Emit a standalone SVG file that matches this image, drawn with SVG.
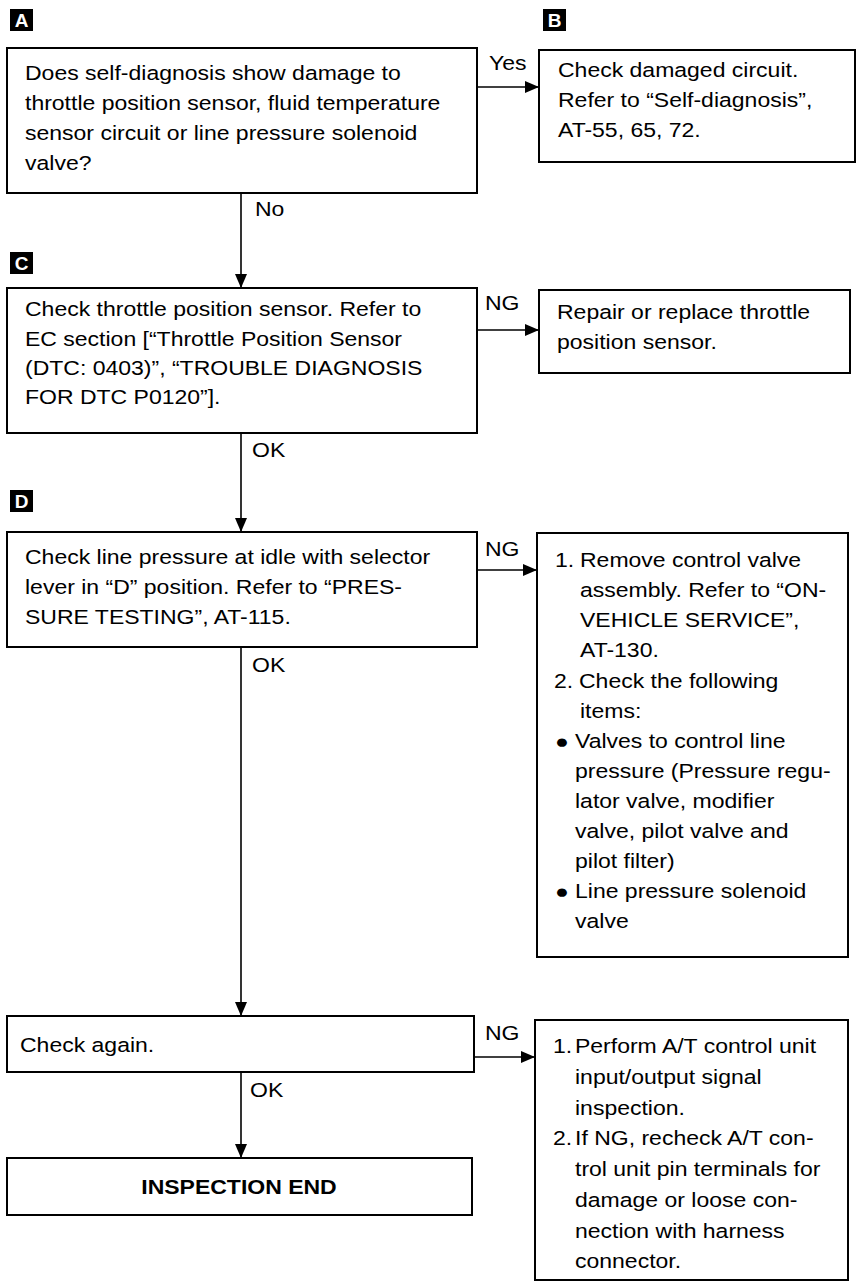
<svg xmlns="http://www.w3.org/2000/svg" width="859" height="1283" viewBox="0 0 859 1283">
<style>
.t{font-family:"Liberation Sans",Arial,Helvetica,sans-serif;font-size:19.5px;fill:#000}
.b{font-weight:bold}
.box{fill:#fff;stroke:#000;stroke-width:2}
.badge{fill:#000}
.bl{font-family:"Liberation Sans",Arial,sans-serif;font-size:19px;font-weight:bold;fill:#fff;text-anchor:middle}
.c{fill:none;stroke:#000;stroke-width:1.6}
</style>
<defs>
<marker id="ah" markerUnits="userSpaceOnUse" markerWidth="14" markerHeight="12" refX="14" refY="6" orient="auto">
<path d="M0,0 L14,6 L0,12 z" fill="#000"/>
</marker>
</defs>
<rect width="859" height="1283" fill="#fff"/>

<g id="badges">
<rect class="badge" x="10" y="9" width="23" height="22"/><text class="bl" x="21.5" y="27">A</text>
<rect class="badge" x="543" y="9" width="23" height="22"/><text class="bl" x="554.5" y="27">B</text>
<rect class="badge" x="10" y="252" width="23" height="22"/><text class="bl" x="21.5" y="270">C</text>
<rect class="badge" x="10" y="490" width="23" height="22"/><text class="bl" x="21.5" y="508">D</text>
</g>

<g id="connectors">
<line class="c" x1="477" y1="87" x2="539" y2="87" marker-end="url(#ah)"/>
<line class="c" x1="241" y1="193" x2="241" y2="288" marker-end="url(#ah)"/>
<line class="c" x1="477" y1="330" x2="539" y2="330" marker-end="url(#ah)"/>
<line class="c" x1="241" y1="433" x2="241" y2="532" marker-end="url(#ah)"/>
<line class="c" x1="477" y1="570" x2="537" y2="570" marker-end="url(#ah)"/>
<line class="c" x1="241" y1="647" x2="241" y2="1016" marker-end="url(#ah)"/>
<line class="c" x1="474" y1="1057" x2="535" y2="1057" marker-end="url(#ah)"/>
<line class="c" x1="241" y1="1072" x2="241" y2="1158" marker-end="url(#ah)"/>
<text class="t" transform="translate(489 70) scale(1.18 1)">Yes</text>
<text class="t" transform="translate(255 216) scale(1.18 1)">No</text>
<text class="t" transform="translate(485 310) scale(1.18 1)">NG</text>
<text class="t" transform="translate(252 457) scale(1.18 1)">OK</text>
<text class="t" transform="translate(485 556) scale(1.18 1)">NG</text>
<text class="t" transform="translate(252 672) scale(1.18 1)">OK</text>
<text class="t" transform="translate(485 1040) scale(1.18 1)">NG</text>
<text class="t" transform="translate(250 1097) scale(1.18 1)">OK</text>
</g>

<g id="nodeA">
<rect class="box" x="7" y="48" width="470" height="145"/>
<text class="t" transform="translate(25 80) scale(1.18 1)">Does self-diagnosis show damage to</text>
<text class="t" transform="translate(25 110) scale(1.18 1)">throttle position sensor, fluid temperature</text>
<text class="t" transform="translate(25 140) scale(1.18 1)">sensor circuit or line pressure solenoid</text>
<text class="t" transform="translate(25 170) scale(1.18 1)">valve?</text>
</g>

<g id="nodeB">
<rect class="box" x="539" y="50" width="316" height="112"/>
<text class="t" transform="translate(558 77) scale(1.18 1)">Check damaged circuit.</text>
<text class="t" transform="translate(558 107) scale(1.18 1)">Refer to “Self-diagnosis”,</text>
<text class="t" transform="translate(558 137) scale(1.18 1)">AT-55, 65, 72.</text>
</g>

<g id="nodeC">
<rect class="box" x="7" y="288" width="470" height="145"/>
<text class="t" transform="translate(25 316) scale(1.18 1)">Check throttle position sensor. Refer to</text>
<text class="t" transform="translate(25 346) scale(1.18 1)">EC section [“Throttle Position Sensor</text>
<text class="t" transform="translate(25 375) scale(1.18 1)">(DTC: 0403)”, “TROUBLE DIAGNOSIS</text>
<text class="t" transform="translate(25 404) scale(1.18 1)">FOR DTC P0120”].</text>
</g>

<g id="nodeRepair">
<rect class="box" x="539" y="290" width="311" height="83"/>
<text class="t" transform="translate(557 319) scale(1.18 1)">Repair or replace throttle</text>
<text class="t" transform="translate(557 349) scale(1.18 1)">position sensor.</text>
</g>

<g id="nodeD">
<rect class="box" x="7" y="532" width="470" height="115"/>
<text class="t" transform="translate(25 564) scale(1.18 1)">Check line pressure at idle with selector</text>
<text class="t" transform="translate(25 594) scale(1.18 1)">lever in “D” position. Refer to “PRES-</text>
<text class="t" transform="translate(25 624) scale(1.18 1)">SURE TESTING”, AT-115.</text>
</g>

<g id="nodeValve">
<rect class="box" x="537" y="533" width="311" height="424"/>
<text class="t" transform="translate(555 567) scale(1.18 1)">1.</text>
<text class="t" transform="translate(580 567) scale(1.18 1)">Remove control valve</text>
<text class="t" transform="translate(580 597) scale(1.18 1)">assembly. Refer to “ON-</text>
<text class="t" transform="translate(580 627) scale(1.18 1)">VEHICLE SERVICE”,</text>
<text class="t" transform="translate(580 657) scale(1.18 1)">AT-130.</text>
<text class="t" transform="translate(554 688) scale(1.18 1)">2.</text>
<text class="t" transform="translate(579 688) scale(1.18 1)">Check the following</text>
<text class="t" transform="translate(580 718) scale(1.18 1)">items:</text>
<text class="t" transform="translate(555 748) scale(1.18 1)">●</text>
<text class="t" transform="translate(575 748) scale(1.18 1)">Valves to control line</text>
<text class="t" transform="translate(575 778) scale(1.18 1)">pressure (Pressure regu-</text>
<text class="t" transform="translate(575 808) scale(1.18 1)">lator valve, modifier</text>
<text class="t" transform="translate(575 838) scale(1.18 1)">valve, pilot valve and</text>
<text class="t" transform="translate(575 868) scale(1.18 1)">pilot filter)</text>
<text class="t" transform="translate(555 898) scale(1.18 1)">●</text>
<text class="t" transform="translate(575 898) scale(1.18 1)">Line pressure solenoid</text>
<text class="t" transform="translate(575 928) scale(1.18 1)">valve</text>
</g>

<g id="nodeCheckAgain">
<rect class="box" x="7" y="1016" width="467" height="56"/>
<text class="t" transform="translate(20 1052) scale(1.18 1)">Check again.</text>
</g>

<g id="nodeUnit">
<rect class="box" x="535" y="1020" width="313" height="260"/>
<text class="t" transform="translate(553 1053) scale(1.18 1)">1.</text>
<text class="t" transform="translate(575 1053) scale(1.18 1)">Perform A/T control unit</text>
<text class="t" transform="translate(575 1084) scale(1.18 1)">input/output signal</text>
<text class="t" transform="translate(575 1115) scale(1.18 1)">inspection.</text>
<text class="t" transform="translate(553 1145) scale(1.18 1)">2.</text>
<text class="t" transform="translate(575 1145) scale(1.18 1)">If NG, recheck A/T con-</text>
<text class="t" transform="translate(575 1176) scale(1.18 1)">trol unit pin terminals for</text>
<text class="t" transform="translate(575 1207) scale(1.18 1)">damage or loose con-</text>
<text class="t" transform="translate(575 1238) scale(1.18 1)">nection with harness</text>
<text class="t" transform="translate(575 1268) scale(1.18 1)">connector.</text>
</g>

<g id="nodeEnd">
<rect class="box" x="7" y="1158" width="465" height="57"/>
<text class="t b" text-anchor="middle" transform="translate(239 1194) scale(1.18 1)">INSPECTION END</text>
</g>
</svg>
